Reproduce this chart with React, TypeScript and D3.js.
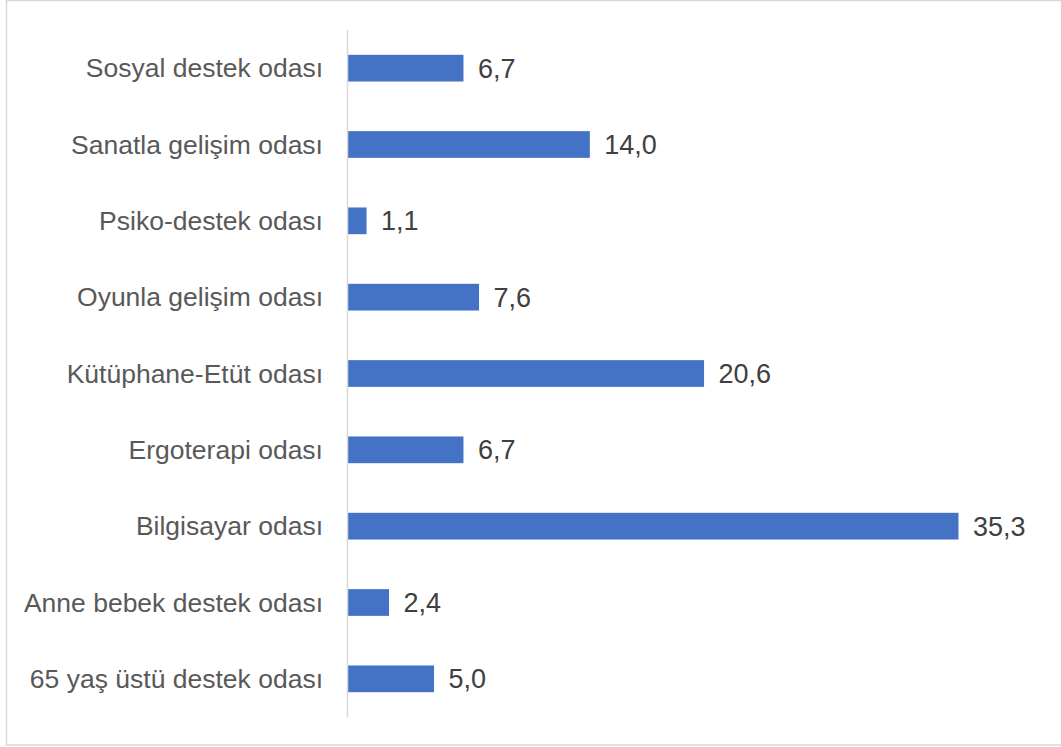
import React from "react";
import * as d3 from "d3";

const categories = [
  "Sosyal destek odası",
  "Sanatla gelişim odası",
  "Psiko-destek odası",
  "Oyunla gelişim odası",
  "Kütüphane-Etüt odası",
  "Ergoterapi odası",
  "Bilgisayar odası",
  "Anne bebek destek odası",
  "65 yaş üstü destek odası",
];
const values = [6.7, 14.0, 1.1, 7.6, 20.6, 6.7, 35.3, 2.4, 5.0];

export default function App() {
  const W = 1061;
  const H = 747;
  const x0 = 347.5;
  const y = d3.scaleBand<string>().domain(categories).range([30, 717]).paddingInner(0.65).paddingOuter(0.325);
  const x = d3.scaleLinear().domain([0, 35.3]).range([x0, 958.5]);
  const fmt = (v: number) => v.toFixed(1).replace(".", ",");
  return (
    <svg width={W} height={H} style={{ position: "absolute", left: 0, top: 0 }} fontFamily="'Liberation Sans', Arial, sans-serif">
      <rect x={6.5} y={0.5} width={1070} height={744.5} fill="#fff" stroke="#d9d9d9" strokeWidth={1.5} />
      {categories.map((c, i) => (
        <g key={c}>
          <rect x={x0} y={y(c)!} width={x(values[i]) - x0} height={y.bandwidth()} fill="#4472c4" />
          <text x={323} y={y(c)! + y.bandwidth() / 2} dy="0.35em" textAnchor="end" fontSize={26.5} fill="#595959">{c}</text>
          <text x={x(values[i]) + 14.5} y={y(c)! + y.bandwidth() / 2} dy="0.35em" textAnchor="start" fontSize={27} fill="#404040">{fmt(values[i])}</text>
        </g>
      ))}
      <line x1={x0} x2={x0} y1={30} y2={717} stroke="#d9d9d9" strokeWidth={1.5} />
    </svg>
  );
}
